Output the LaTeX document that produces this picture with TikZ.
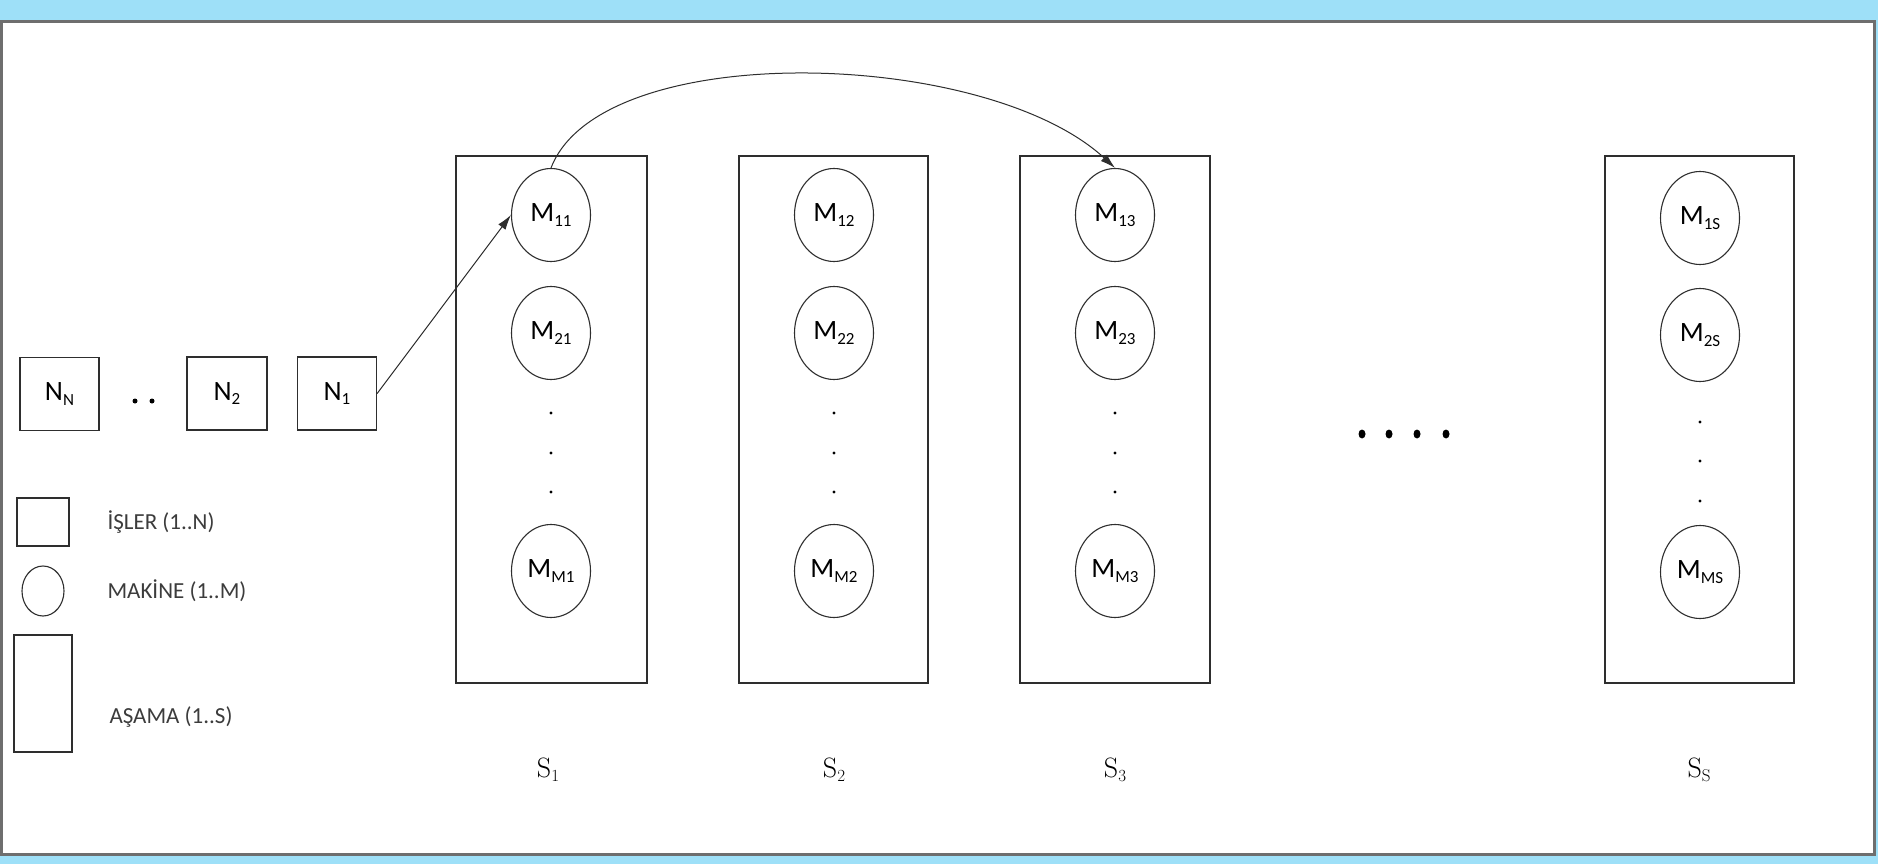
\documentclass[tikz,border=0pt]{standalone}
\usepackage{fontspec}
\newfontfamily\calib{Carlito}
\usetikzlibrary{shapes.geometric,arrows.meta}
\definecolor{frameblue}{HTML}{9EE0F8}
\definecolor{framegray}{HTML}{6E6E6E}
\definecolor{legendtext}{HTML}{3C3C3C}
\definecolor{ink}{HTML}{2E2E2E}
% lowered, smaller index text
\newcommand\lo[1]{\raisebox{-0.35ex}{\fontsize{17}{17}\selectfont #1}}

\begin{document}
\begin{tikzpicture}[x=1pt,y=-1pt,
  stagebox/.style={draw=ink,line width=1.3pt,inner sep=0pt},
  machine/.style={ellipse,draw=ink,line width=1.1pt,minimum width=79pt,minimum height=93pt,
    inner sep=0pt,font=\calib\fontsize{28}{28}\selectfont},
  job/.style={draw=ink,line width=1.3pt,minimum width=79pt,minimum height=73pt,inner sep=0pt,
    font=\calib\fontsize{28}{28}\selectfont},
  legendtxt/.style={anchor=west,text=legendtext,font=\calib\fontsize{23}{23}\selectfont},
  stagelabel/.style={font=\fontsize{28}{28}\selectfont},
  vdot/.style={circle,fill=black,inner sep=0pt,minimum size=3.2pt},
  bigdot/.style={ellipse,fill=black,inner sep=0pt,minimum width=7pt,minimum height=9pt},
  flow/.style={draw=ink,line width=1pt,-{Latex[length=15pt,width=9pt]}}
]
% frame
\useasboundingbox (0,0) rectangle (1878,864);
\fill[frameblue] (0,0) rectangle (1878,864);
\draw[framegray,line width=3pt,fill=white] (1,22) rectangle (1874,854);

% stages
\node[stagebox,minimum width=191pt,minimum height=527pt] (S1) at (551.5,419.5) {};
\node[stagebox,minimum width=189pt,minimum height=527pt] (S2) at (833.5,419.5) {};
\node[stagebox,minimum width=190pt,minimum height=527pt] (S3) at (1115,419.5) {};
\node[stagebox,minimum width=189pt,minimum height=527pt] (SS) at (1699.5,419.5) {};

% machines of stage 1
\node[machine] (M11) at (551,215) {M\lo{11}};
\node[machine] (M21) at (551,333) {M\lo{21}};
\node[vdot] (d11) at (551,413) {};
\node[vdot] (d12) at (551,453) {};
\node[vdot] (d13) at (551,492) {};
\node[machine] (MM1) at (551,571) {M\lo{M1}};
% machines of stage 2
\node[machine] (M12) at (834,215) {M\lo{12}};
\node[machine] (M22) at (834,333) {M\lo{22}};
\node[vdot] (d21) at (834,413) {};
\node[vdot] (d22) at (834,453) {};
\node[vdot] (d23) at (834,492) {};
\node[machine] (MM2) at (834,571) {M\lo{M2}};
% machines of stage 3
\node[machine] (M13) at (1115,215) {M\lo{13}};
\node[machine] (M23) at (1115,333) {M\lo{23}};
\node[vdot] (d31) at (1115,413) {};
\node[vdot] (d32) at (1115,453) {};
\node[vdot] (d33) at (1115,492) {};
\node[machine] (MM3) at (1115,571) {M\lo{M3}};
% machines of last stage
\node[machine] (M1S) at (1700,218) {M\lo{1S}};
\node[machine] (M2S) at (1700,335) {M\lo{2S}};
\node[vdot] (dS1) at (1700,422) {};
\node[vdot] (dS2) at (1700,461) {};
\node[vdot] (dS3) at (1700,501) {};
\node[machine] (MMS) at (1700,572) {M\lo{MS}};

% stages left out
\node[bigdot] (g1) at (1362,434) {};
\node[bigdot] (g2) at (1389,434) {};
\node[bigdot] (g3) at (1417,434) {};
\node[bigdot] (g4) at (1446,434) {};

% stage labels
\node[stagelabel] (L1) at (548,770) {S\lo{1}};
\node[stagelabel] (L2) at (834,770) {S\lo{2}};
\node[stagelabel] (L3) at (1115,770) {S\lo{3}};
\node[stagelabel] (LS) at (1699,770) {S\lo{S}};

% jobs waiting
\node[job] (NN) at (59.5,394) {N\lo{N}};
\node[vdot,minimum size=5pt] (jd1) at (135,401) {};
\node[vdot,minimum size=5pt] (jd2) at (152,401) {};
\node[job,minimum width=80pt] (N2) at (227,393.5) {N\lo{2}};
\node[job] (N1) at (337,393.5) {N\lo{1}};

% legend
\node[draw=ink,line width=1.3pt,minimum width=52pt,minimum height=48pt,inner sep=0pt] (kjob) at (43,522) {};
\node[ellipse,draw=ink,line width=1.1pt,minimum width=42pt,minimum height=50pt,inner sep=0pt] (kmac) at (43,591) {};
\node[draw=ink,line width=1.3pt,minimum width=58pt,minimum height=117pt,inner sep=0pt] (kstage) at (43,693.5) {};
\node[legendtxt] (tjob) at (104,522) {İŞLER (1..N)};
\node[legendtxt] (tmac) at (104,591) {MAKİNE (1..M)};
\node[legendtxt] (tstage) at (106,717) {AŞAMA (1..S)};

% routing
\draw[flow] (N1.east) -- (M11.west);
\draw[flow] (M11.north) .. controls +(50,-130) and +(-130,-120) .. (M13.north);
\end{tikzpicture}
\end{document}
